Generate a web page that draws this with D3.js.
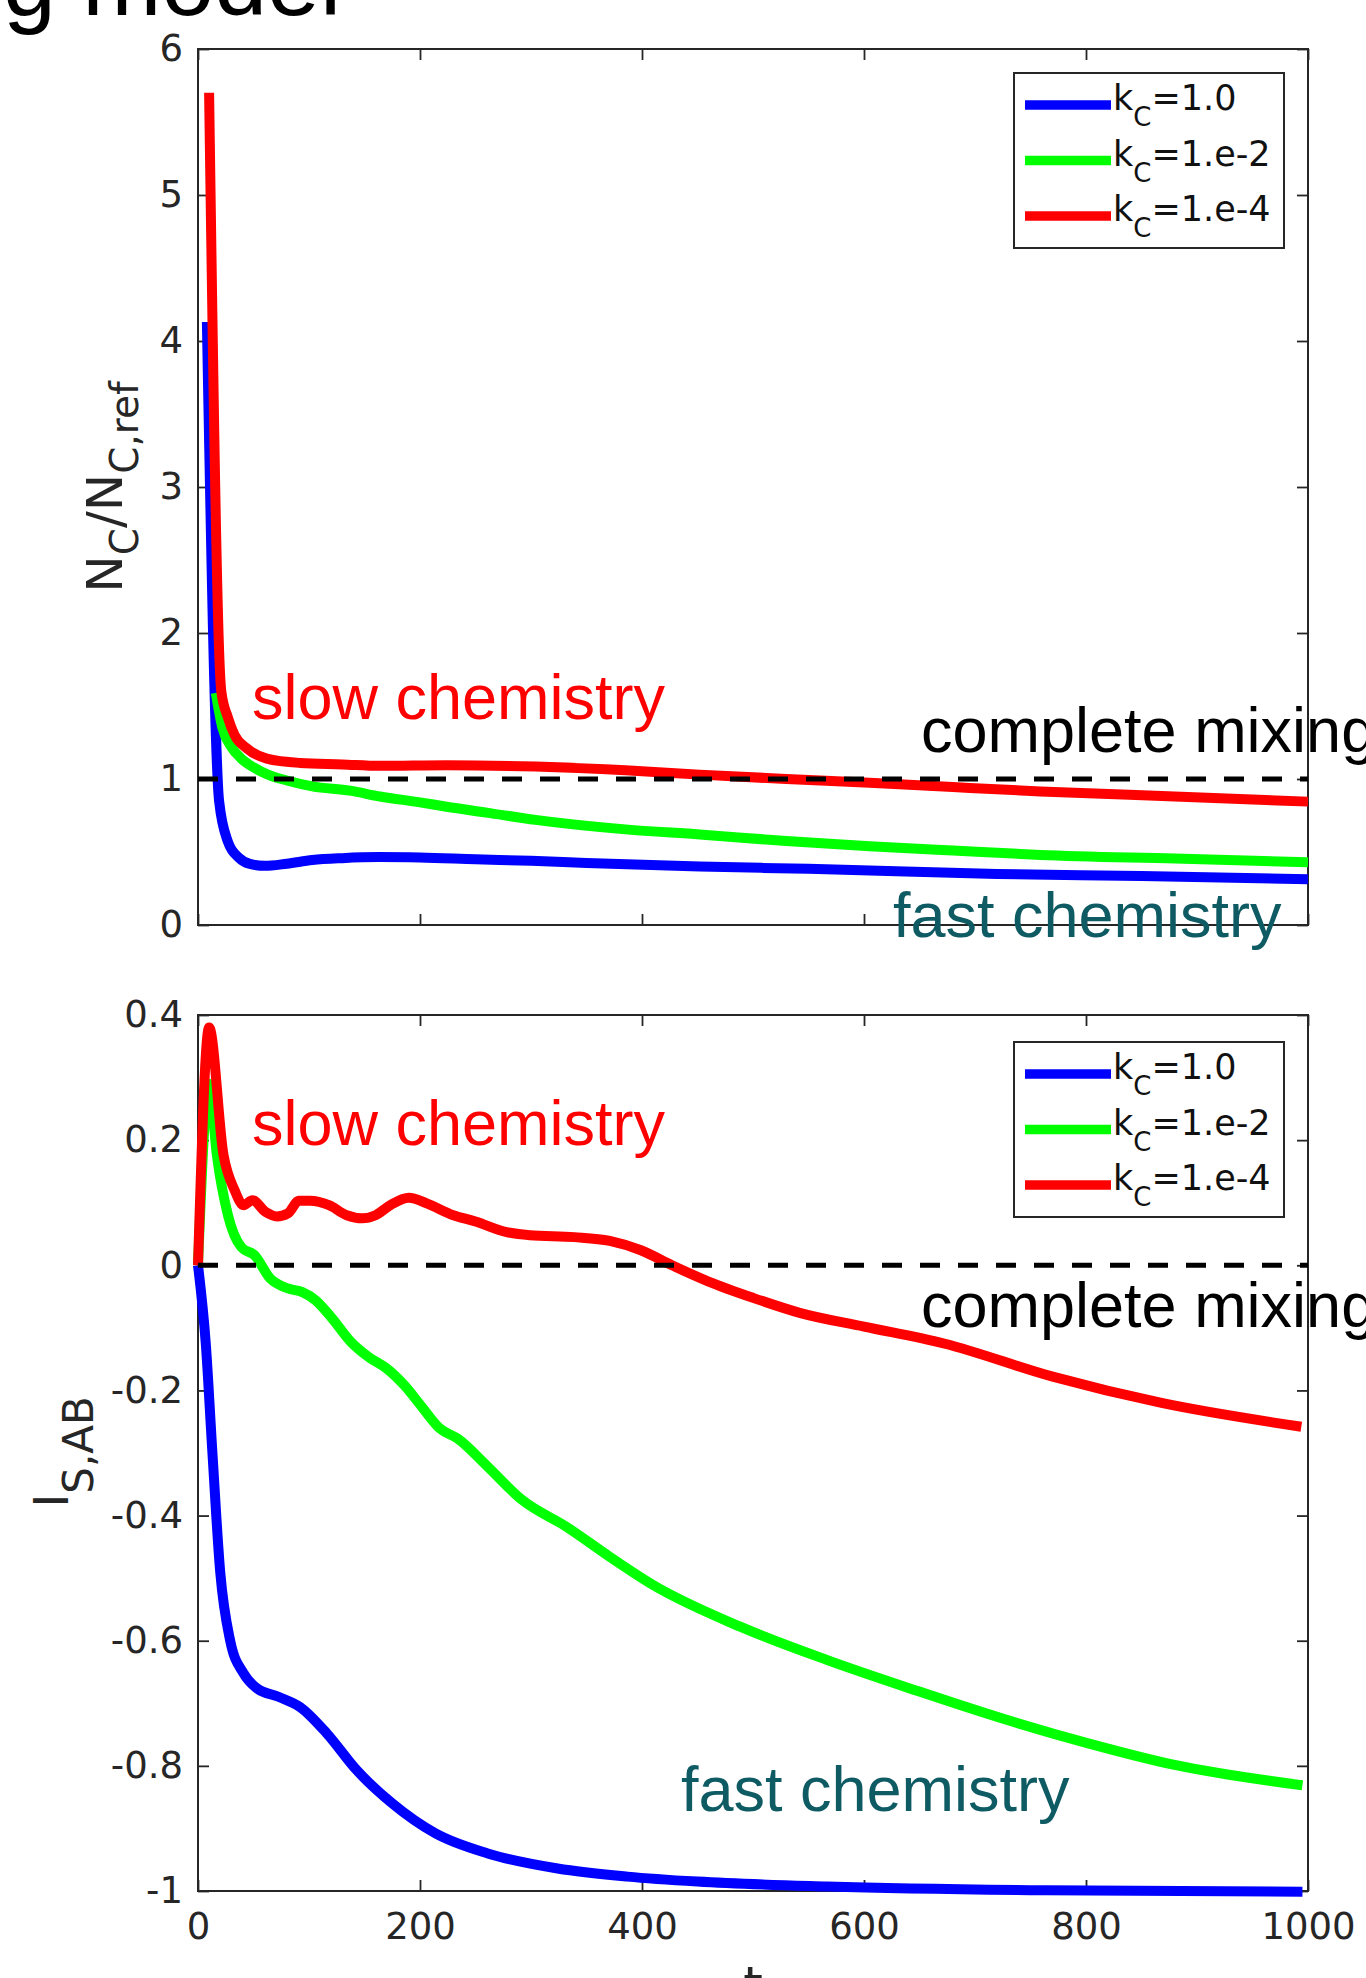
<!DOCTYPE html>
<html>
<head>
<meta charset="utf-8">
<script src="https://cdn.jsdelivr.net/npm/d3@7"></script>
<style>
  body { margin: 0; background: #fff; overflow: hidden; }
  svg { display: block; }
  .tick text { font-family: "DejaVu Sans", sans-serif; font-size: 37px; fill: #262626; }
  .tick line { stroke: #262626; stroke-width: 1.8; }
  .note { font-family: "Liberation Sans", Arial, sans-serif; font-size: 63px; }
</style>
</head>
<body>
<script>
// time axis
var xTicks = [0, 200, 400, 600, 800, 1000];

// top panel: N_C / N_C,ref
var topTicks = [0, 1, 2, 3, 4, 5, 6];
var blueTopT = [8, 19, 27, 37, 46, 60, 80, 103, 130, 163, 200, 250, 300, 350, 452, 550, 720, 850, 1000];
var blueTopV = [4.13, 0.85, 0.57, 0.46, 0.42, 0.405, 0.42, 0.445, 0.458, 0.465, 0.462, 0.45, 0.44, 0.425, 0.40, 0.385, 0.35, 0.335, 0.313];
var greenTopT = [16, 22, 30, 39, 50, 63, 80, 103, 137, 164, 200, 224, 260, 304, 385, 452, 530, 605, 680, 759, 880, 1000];
var greenTopV = [1.59, 1.35, 1.22, 1.14, 1.08, 1.03, 0.99, 0.95, 0.92, 0.88, 0.84, 0.81, 0.77, 0.72, 0.655, 0.62, 0.575, 0.54, 0.51, 0.48, 0.455, 0.43];
var redTopT = [10, 21, 27, 33, 44, 62, 92, 130, 164, 224, 304, 385, 452, 530, 605, 680, 759, 880, 1000];
var redTopV = [5.7, 1.6, 1.42, 1.3, 1.21, 1.14, 1.11, 1.1, 1.09, 1.095, 1.085, 1.06, 1.03, 1.0, 0.975, 0.945, 0.915, 0.88, 0.845];

// bottom panel: I_S,AB
var botTicks = [-1, -0.8, -0.6, -0.4, -0.2, 0, 0.2, 0.4];
var blueBotT = [0, 7, 13, 20, 29, 41, 53, 73, 92, 116, 143, 175, 214, 261, 324, 387, 450, 567, 763, 995];
var blueBotV = [0, -0.125, -0.3, -0.49, -0.6, -0.652, -0.676, -0.69, -0.706, -0.748, -0.807, -0.86, -0.908, -0.94, -0.964, -0.977, -0.985, -0.993, -0.999, -1.001];
var greenBotT = [0, 10, 17, 27, 39, 51, 65, 81, 94, 106, 120, 138, 154, 170, 186, 202, 218, 234, 260, 292, 332, 371, 410, 489, 567, 646, 724, 802, 881, 995];
var greenBotV = [0, 0.29, 0.176, 0.08, 0.029, 0.016, -0.021, -0.037, -0.043, -0.056, -0.083, -0.123, -0.147, -0.165, -0.192, -0.227, -0.261, -0.277, -0.32, -0.375, -0.418, -0.466, -0.511, -0.578, -0.631, -0.679, -0.724, -0.764, -0.799, -0.831];
var redBotT = [0, 10, 23, 33, 41, 49, 61, 71, 81, 91, 101, 118, 134, 148, 160, 174, 190, 206, 230, 250, 278, 299, 339, 371, 399, 427, 460, 500, 542, 600, 672, 770, 868, 994];
var redBotV = [0, 0.38, 0.176, 0.12, 0.096, 0.104, 0.085, 0.078, 0.083, 0.103, 0.103, 0.096, 0.08, 0.075, 0.08, 0.097, 0.108, 0.099, 0.08, 0.07, 0.053, 0.048, 0.045, 0.039, 0.024, 0.0, -0.026, -0.052, -0.076, -0.098, -0.125, -0.178, -0.22, -0.258];

var seriesNames = ["=1.0", "=1.e-2", "=1.e-4"];
var seriesColors = ["#0000ff", "#00ff00", "#ff0000"];

var W = 1366, H = 1978;
var svg = d3.select("body").append("svg").attr("width", W).attr("height", H);

var x = d3.scaleLinear().domain([0, 1000]).range([198, 1308]);
var yTop = d3.scaleLinear().domain([0, 6]).range([925, 49]);
var yBot = d3.scaleLinear().domain([-1, 0.4]).range([1891, 1015]);

function fmtTick(d) {
    return String(Math.round(d * 10) / 10);
}

//Axes box with inward ticks on all four sides
function drawFrame(y, ticks, withXLabels) {
    var g = svg.append("g");
    var top = y.range()[1], bottom = y.range()[0];

    g.append("g").attr("transform", "translate(" + x(0) + ",0)")
        .call(d3.axisLeft(y).tickValues(ticks).tickSize(-11).tickPadding(15).tickFormat(fmtTick));
    g.append("g").attr("transform", "translate(" + x(1000) + ",0)")
        .call(d3.axisRight(y).tickValues(ticks).tickSize(-11).tickFormat(""));
    g.append("g").attr("transform", "translate(0," + bottom + ")")
        .call(d3.axisBottom(x).tickValues(xTicks).tickSize(-11).tickPadding(22).tickFormat(withXLabels ? d3.format("d") : ""));
    g.append("g").attr("transform", "translate(0," + top + ")")
        .call(d3.axisTop(x).tickValues(xTicks).tickSize(-11).tickFormat(""));
    g.selectAll(".domain").remove();

    g.append("rect")
        .attr("x", x(0)).attr("y", top)
        .attr("width", x(1000) - x(0)).attr("height", bottom - top)
        .attr("fill", "none").attr("stroke", "#262626").attr("stroke-width", 2);
    return g;
}

function drawSeries(y, ts, vs, color) {
    var pts = ts.map(function (t, i) { return [t, vs[i]]; });
    var line = d3.line()
        .x(function (d) { return x(d[0]); })
        .y(function (d) { return y(d[1]); })
        .curve(d3.curveMonotoneX);
    svg.append("path")
        .datum(pts)
        .attr("d", line)
        .attr("fill", "none")
        .attr("stroke", color)
        .attr("stroke-width", 10)
        .attr("stroke-linejoin", "round");
}

function drawMixLine(y, level) {
    svg.append("line")
        .attr("x1", x(0)).attr("x2", x(1000))
        .attr("y1", y(level)).attr("y2", y(level))
        .attr("stroke", "#000").attr("stroke-width", 5)
        .attr("stroke-dasharray", "20,18");
}

function drawLegend(top) {
    var g = svg.append("g");
    g.append("rect")
        .attr("x", 1014).attr("y", top)
        .attr("width", 270).attr("height", 175)
        .attr("fill", "#fff").attr("stroke", "#262626").attr("stroke-width", 2);
    seriesNames.forEach(function (name, i) {
        var ly = top + 32 + i * 55.5;
        g.append("line")
            .attr("x1", 1025).attr("x2", 1111)
            .attr("y1", ly).attr("y2", ly)
            .attr("stroke", seriesColors[i]).attr("stroke-width", 9.5);
        var txt = g.append("text")
            .attr("x", 1113).attr("y", ly + 5)
            .attr("font-family", "DejaVu Sans, sans-serif")
            .attr("font-size", 35).attr("fill", "#111");
        txt.append("tspan").text("k");
        txt.append("tspan").attr("font-size", 26).attr("dy", 16).text("C");
        txt.append("tspan").attr("dy", -16).text(name);
    });
}

// title (cut off at the top of the slide)
svg.append("text")
    .attr("x", 341).attr("y", 15)
    .attr("text-anchor", "end")
    .attr("font-family", "Liberation Sans, Arial, sans-serif")
    .attr("font-size", 95).attr("fill", "#000")
    .text("Mixing model");

// ---- top panel
drawFrame(yTop, topTicks, false);
drawSeries(yTop, blueTopT, blueTopV, seriesColors[0]);
drawSeries(yTop, greenTopT, greenTopV, seriesColors[1]);
drawSeries(yTop, redTopT, redTopV, seriesColors[2]);
drawMixLine(yTop, 1);
drawLegend(73);

var lblTop = svg.append("text")
    .attr("transform", "translate(122,487) rotate(-90)")
    .attr("text-anchor", "middle")
    .attr("font-family", "DejaVu Sans, sans-serif")
    .attr("font-size", 50).attr("fill", "#262626");
lblTop.append("tspan").text("N");
lblTop.append("tspan").attr("font-size", 39).attr("dy", 16).text("C");
lblTop.append("tspan").attr("dy", -16).text("/N");
lblTop.append("tspan").attr("font-size", 39).attr("dy", 16).text("C,ref");

svg.append("text").attr("class", "note").attr("x", 252).attr("y", 719).attr("fill", "#ff0000").text("slow chemistry");
svg.append("text").attr("class", "note").attr("x", 921).attr("y", 752).attr("fill", "#000").text("complete mixing");
svg.append("text").attr("class", "note").attr("x", 893).attr("y", 937).attr("fill", "#0f5b64").text("fast chemistry");

// ---- bottom panel
drawFrame(yBot, botTicks, true);
drawSeries(yBot, blueBotT, blueBotV, seriesColors[0]);
drawSeries(yBot, greenBotT, greenBotV, seriesColors[1]);
drawSeries(yBot, redBotT, redBotV, seriesColors[2]);
drawMixLine(yBot, 0);
drawLegend(1042);

var lblBot = svg.append("text")
    .attr("transform", "translate(68,1452) rotate(-90)")
    .attr("text-anchor", "middle")
    .attr("font-family", "DejaVu Sans, sans-serif")
    .attr("font-size", 48).attr("fill", "#262626");
lblBot.append("tspan").text("I");
lblBot.append("tspan").attr("font-size", 42).attr("dy", 25).text("S,AB");

svg.append("text").attr("class", "note").attr("x", 252).attr("y", 1145).attr("fill", "#ff0000").text("slow chemistry");
svg.append("text").attr("class", "note").attr("x", 921).attr("y", 1327).attr("fill", "#000").text("complete mixing");
svg.append("text").attr("class", "note").attr("x", 681).attr("y", 1811).attr("fill", "#0f5b64").text("fast chemistry");

// x label, mostly below the bottom edge of the slide
svg.append("text")
    .attr("x", x(500)).attr("y", 2002)
    .attr("text-anchor", "middle")
    .attr("font-family", "DejaVu Sans, sans-serif")
    .attr("font-size", 50).attr("fill", "#262626")
    .text("t");
</script>
</body>
</html>
